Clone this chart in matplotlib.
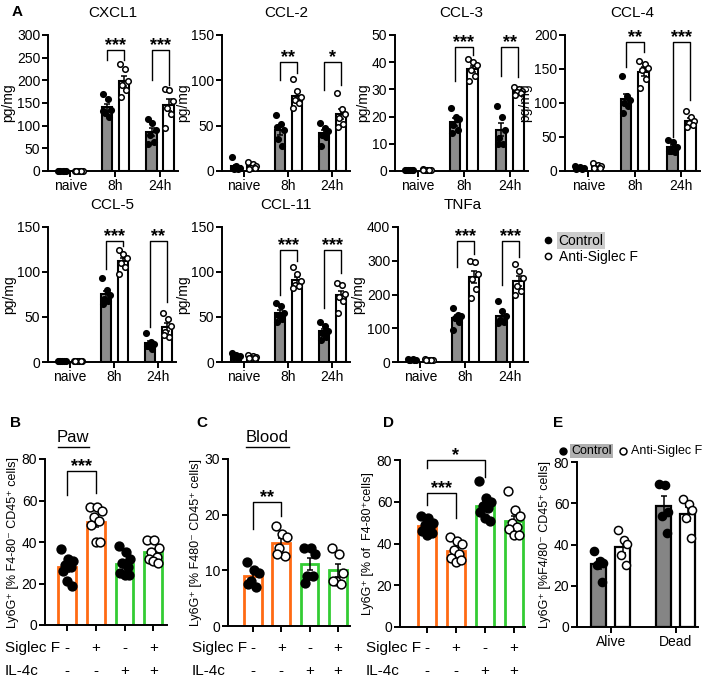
import numpy as np
import matplotlib.pyplot as plt
from matplotlib.lines import Line2D
from matplotlib.transforms import blended_transform_factory

plt.rcParams['font.family'] = ['Liberation Sans', 'DejaVu Sans']

W, H = 709, 682

# ---------------- panel A: cytokines (pg/mg) ----------------
time_labels = ["naive", "8h", "24h"]

cxcl1_ctrl = [[1, 1, 1, 1, 1, 1], [170, 158, 135, 128, 120, 132], [115, 105, 90, 80, 65, 60]]
cxcl1_anti = [[1, 1, 1, 1, 1, 1], [236, 225, 198, 190, 178, 163], [180, 178, 155, 140, 125, 95]]

ccl2_ctrl = [[15, 5, 3, 2, 2, 3], [62, 52, 45, 35, 28, 48], [53, 47, 44, 40, 38, 28]]
ccl2_anti = [[10, 8, 5, 3, 3, 2], [102, 88, 82, 78, 75, 70], [86, 68, 63, 58, 52, 48]]

ccl3_ctrl = [[0.5, 0.5, 0.5, 0.4, 0.4, 0.5], [23, 20, 19, 17, 15, 14], [24, 20, 15, 12, 10, 10]]
ccl3_anti = [[0.6, 0.5, 0.5, 0.4, 0.4, 0.5], [41, 40, 39, 37, 35, 33], [31, 30, 29.5, 29, 28.5, 28]]

ccl4_ctrl = [[8, 6, 5, 4, 3, 3], [140, 110, 105, 100, 95, 85], [45, 42, 35, 30, 28, 30]]
ccl4_anti = [[12, 9, 7, 5, 5, 4], [162, 158, 152, 148, 135, 122], [88, 80, 73, 70, 67, 65]]

ccl5_ctrl = [[1, 1, 1, 1, 1, 1], [93, 80, 75, 70, 68, 65], [32, 22, 20, 18, 15, 18]]
ccl5_anti = [[1, 1, 1, 1, 1, 1], [124, 120, 115, 110, 105, 98], [55, 48, 40, 33, 28, 30]]

ccl11_ctrl = [[10, 8, 7, 6, 5, 6], [66, 62, 55, 52, 48, 45], [45, 40, 35, 32, 28, 25]]
ccl11_anti = [[8, 7, 6, 5, 5, 5], [105, 98, 90, 86, 84, 82], [88, 85, 76, 72, 68, 55]]

tnfa_ctrl = [[9, 8, 7, 6, 6, 6], [160, 140, 135, 130, 120, 95], [180, 150, 135, 125, 120, 115]]
tnfa_anti = [[8, 7, 6, 6, 5, 5], [300, 295, 260, 245, 215, 190], [290, 270, 250, 225, 210, 200]]

# (group, bracket top, left leg end, right leg end, label)
cxcl1_sig = [(1, 267, 245, 245, "***"), (2, 267, 200, 190, "***")]
ccl2_sig = [(1, 120, 100, 108, "**"), (2, 120, 89, 95, "*")]
ccl3_sig = [(1, 45.7, 33, 42.6, "***"), (2, 45.7, 35, 34.6, "**")]
ccl4_sig = [(1, 190, 153, 175, "**"), (2, 190, 50, 104, "***")]
ccl5_sig = [(1, 134, 103, 129, "***"), (2, 134, 39, 67, "**")]
ccl11_sig = [(1, 124, 75, 112, "***"), (2, 124, 60, 99, "***")]
tnfa_sig = [(1, 358, 282, 321, "***"), (2, 358, 228, 312, "***")]

# ---------------- panels B-D ----------------
siglec_signs = ["-", "+", "-", "+"]
il4c_signs = ["-", "-", "+", "+"]

paw_vals = [[36.5, 32, 31, 29, 28, 26, 21, 19], [57, 57, 55, 52, 50, 48, 40, 40],
            [38, 35, 32, 30, 28, 25, 24, 24], [41, 41, 37, 35, 33, 32, 31, 30]]
blood_vals = [[11.5, 10, 9.5, 8, 7, 7.5], [18, 16.5, 16, 14, 12.5, 13],
              [14, 14, 13, 9, 9, 7.8], [14, 13, 9.5, 8, 7.5, 8]]
f480_vals = [[53, 52, 50, 49, 48, 46, 44, 45], [43, 41, 40, 37, 35, 33, 31, 32],
             [70, 62, 60, 58, 57, 55, 52, 51], [65, 56, 53, 50, 48, 47, 44, 44]]

# ---------------- panel E ----------------
outcome_labels = ["Alive", "Dead"]
e_ctrl = [[37, 32, 31, 30, 22], [69.5, 69, 55.7, 53.6, 45.5]]
e_anti = [[47, 42, 40.4, 34.7, 30], [62, 59.8, 56.5, 53, 43]]

GREY = "#8c8c8c"
ORANGE = "#ff6a13"
GREEN = "#33cc33"
JIT = np.array([-1, 0.2, 1, -0.4, 0.6, -0.8, 0.0, 0.8])


def add_px_axes(fig, left, top, right, bottom):
    return fig.add_axes([left / W, 1 - bottom / H, (right - left) / W, (bottom - top) / H])


def style_axes(ax):
    for s in ["top", "right"]:
        ax.spines[s].set_visible(False)
    for s in ["left", "bottom"]:
        ax.spines[s].set_linewidth(1.4)
    ax.tick_params(width=1.4, length=4, labelsize=10, pad=1.5)


def bracket(ax, x1, x2, top, y1, y2, label):
    ax.plot([x1, x1, x2, x2], [y1, top, top, y2], color="black", lw=1, clip_on=False)
    ax.text((x1 + x2) / 2, top, label, ha="center", va="baseline", fontsize=13,
            fontweight="bold", clip_on=False)


def mean_sem(vals):
    v = np.asarray(vals, dtype=float)
    return v.mean(), v.std(ddof=1) / np.sqrt(len(v))


def draw_bar(ax, x, vals, width, face, edge, filled, lw, msize, spread):
    m, sem = mean_sem(vals)
    ax.bar(x, m, width=width, color=face, edgecolor=edge, linewidth=lw, zorder=2)
    ax.errorbar(x, m, yerr=sem, color="black", capsize=2.5, lw=1.1, capthick=1.1, zorder=3)
    offs = np.resize(JIT, len(vals)) * spread
    ax.scatter(x + offs, vals, s=msize, facecolor="black" if filled else "white",
               edgecolor="black", linewidth=1.1, zorder=4, clip_on=False)


def cytokine_panel(ax, title, ctrl, anti, ymax, ystep, sig):
    x = np.arange(len(time_labels))
    for i in range(len(x)):
        draw_bar(ax, x[i] - 0.19, ctrl[i], 0.23, GREY, "black", True, 1.5, 16, 0.09)
        draw_bar(ax, x[i] + 0.19, anti[i], 0.23, "white", "black", False, 1.5, 16, 0.09)
    for g, top, y1, y2, lab in sig:
        bracket(ax, g - 0.19, g + 0.19, top, y1, y2, lab)
    ax.set_xlim(-0.5, 2.4)
    ax.set_ylim(0, ymax)
    ax.set_yticks(np.arange(0, ymax + 1, ystep))
    ax.set_xticks(x, time_labels)
    ax.set_ylabel("pg/mg", fontsize=10, labelpad=1)
    ax.set_title(title, fontsize=11, pad=13)
    style_axes(ax)


fig = plt.figure(figsize=(W / 100, H / 100), dpi=100)

# panel A, two rows
rows = [(35, 171), (227, 362)]
a_specs = [
    ((48, 178), 0, "CXCL1", cxcl1_ctrl, cxcl1_anti, 300, 50, cxcl1_sig),
    ((222, 350), 0, "CCL-2", ccl2_ctrl, ccl2_anti, 150, 50, ccl2_sig),
    ((395, 528), 0, "CCL-3", ccl3_ctrl, ccl3_anti, 50, 10, ccl3_sig),
    ((565, 700), 0, "CCL-4", ccl4_ctrl, ccl4_anti, 200, 50, ccl4_sig),
    ((48, 176), 1, "CCL-5", ccl5_ctrl, ccl5_anti, 150, 50, ccl5_sig),
    ((222, 350), 1, "CCL-11", ccl11_ctrl, ccl11_anti, 150, 50, ccl11_sig),
    ((398, 528), 1, "TNFa", tnfa_ctrl, tnfa_anti, 400, 100, tnfa_sig),
]
a_axes = []
for (l, r), row, title, c, a, ymax, ystep, sig in a_specs:
    t, b = rows[row]
    ax = add_px_axes(fig, l, t, r, b)
    cytokine_panel(ax, title, c, a, ymax, ystep, sig)
    a_axes.append(ax)

handles = [Line2D([], [], marker="o", ls="", mfc="black", mec="black", ms=4.5),
           Line2D([], [], marker="o", ls="", mfc="white", mec="black", mew=1.1, ms=4.5)]
leg = a_axes[-1].legend(handles, ["Control", "Anti-Siglec F"], loc="upper left",
                        bbox_to_anchor=(535 / W, 1 - 228 / H), bbox_transform=fig.transFigure,
                        frameon=False, fontsize=10, handletextpad=0.3, labelspacing=0.2,
                        borderaxespad=0, handlelength=1.0)
leg.get_texts()[0].set_bbox(dict(facecolor="#cccccc", edgecolor="none", pad=1))

# bottom row B-D
b_specs = [
    ((45, 459, 167, 625), paw_vals, 80, 20, (-0.77, 3.48),
     "Ly6G\u207a [% F4-80\u207b CD45\u207a cells]", [(0, 1, 74, 62.7, 63.8, "***")]),
    ((228, 459, 350, 626), blood_vals, 30, 10, (-0.88, 3.43),
     "Ly6G\u207a [% F480\u207b CD45\u207a cells]", [(0, 1, 22.3, 17.5, 19.7, "**")]),
    ((400, 460, 525, 627), f480_vals, 80, 20, (-0.93, 3.38),
     "Ly6G\u207a [% of  F4-80\u207acells]", [(0, 1, 64, 58.4, 52, "***"), (0, 2, 80, 76, 72, "*")]),
]
colors = [ORANGE, ORANGE, GREEN, GREEN]
for (l, t, r, b), vals, ymax, ystep, xlim, ylab, sig in b_specs:
    ax = add_px_axes(fig, l, t, r, b)
    x = np.arange(4)
    for i in range(4):
        draw_bar(ax, x[i], vals[i], 0.62, "white", colors[i], i % 2 == 0, 2.0, 40, 0.2)
    for g1, g2, top, y1, y2, lab in sig:
        bracket(ax, g1, g2, top, y1, y2, lab)
    ax.set_xlim(*xlim)
    ax.set_ylim(0, ymax)
    ax.set_yticks(np.arange(0, ymax + 1, ystep))
    ax.set_xticks(x, [""] * 4)
    ax.set_ylabel(ylab, fontsize=9, labelpad=2)
    style_axes(ax)
    blend = blended_transform_factory(ax.transData, fig.transFigure)
    for i in range(4):
        ax.text(x[i], 1 - 648 / H, siglec_signs[i], transform=blend, ha="center", va="center",
                fontsize=11)
        ax.text(x[i], 1 - 671 / H, il4c_signs[i], transform=blend, ha="center", va="center",
                fontsize=11)

for px in (5, 192, 366):
    fig.text(px / W, 1 - 648 / H, "Siglec F", fontsize=11, va="center")
    fig.text(px / W, 1 - 671 / H, "IL-4c", fontsize=11, va="center")

fig.text(73 / W, 1 - 438 / H, "Paw", fontsize=12, ha="center", va="center")
fig.text(267 / W, 1 - 438 / H, "Blood", fontsize=12, ha="center", va="center")
fig.add_artist(Line2D([58 / W, 89 / W], [1 - 447 / H, 1 - 447 / H], color="black", lw=1))
fig.add_artist(Line2D([246 / W, 289 / W], [1 - 447 / H, 1 - 447 / H], color="black", lw=1))

# panel E
ax_e = add_px_axes(fig, 577, 462, 698, 627)
xe = np.arange(len(outcome_labels))
for i in range(len(xe)):
    draw_bar(ax_e, xe[i] - 0.185, e_ctrl[i], 0.23, "#858585", "black", True, 1.6, 34, 0.07)
    draw_bar(ax_e, xe[i] + 0.185, e_anti[i], 0.23, "white", "black", False, 1.6, 34, 0.07)
ax_e.set_xlim(-0.52, 1.34)
ax_e.set_ylim(0, 80)
ax_e.set_yticks(np.arange(0, 81, 20))
ax_e.set_xticks(xe, outcome_labels)
ax_e.set_ylabel("Ly6G\u207a [%F4/80\u207b CD45\u207a cells]", fontsize=9, labelpad=2)
style_axes(ax_e)

# legend for E, laid out by hand so it fits the right edge
ly = 1 - 451 / H
fig.add_artist(Line2D([563 / W], [ly], marker="o", ls="", mfc="black", mec="black", ms=5))
fig.text(571 / W, ly, "Control", fontsize=9, va="center",
         bbox=dict(facecolor="#b0b0b0", edgecolor="none", pad=1))
fig.add_artist(Line2D([623 / W], [ly], marker="o", ls="", mfc="white", mec="black",
                      mew=1.1, ms=5))
fig.text(631 / W, ly, "Anti-Siglec F", fontsize=9, va="center")

# panel letters
for lab, px, py in [("A", 12, 12), ("B", 10, 423), ("C", 196, 423), ("D", 383, 423), ("E", 553, 423)]:
    fig.text(px / W, 1 - py / H, lab, fontsize=11, fontweight="bold", ha="left", va="center")

fig.savefig("out.png", dpi=100)
